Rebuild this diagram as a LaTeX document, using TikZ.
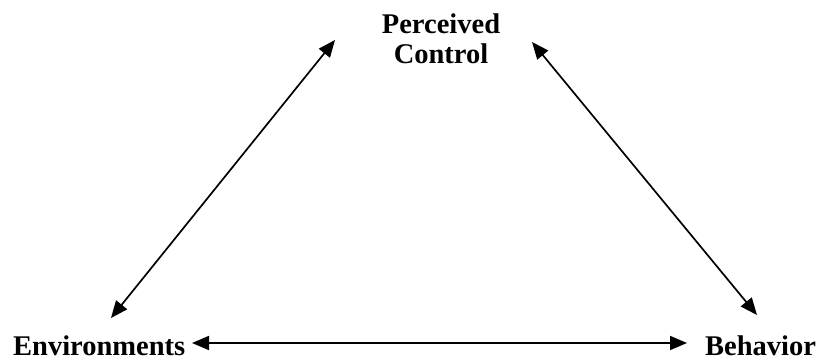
\documentclass[tikz,border=0pt]{standalone}
\usepackage{fontspec}
\setmainfont{Liberation Serif}
\usetikzlibrary{arrows.meta}
\tikzset{
  lbl/.style={font=\bfseries\fontsize{28.5}{30}\selectfont, inner sep=0pt, align=center},
  link/.style={line width=1.7pt, {Triangle[length=17pt,width=14pt]}-{Triangle[length=17pt,width=14pt]}}
}
\begin{document}
\begin{tikzpicture}[x=1pt,y=1pt]
\useasboundingbox (0,0) rectangle (830,360);
\node[lbl, anchor=base west] (env) at (13,5) {Environments};
\node[lbl, anchor=base west] (beh) at (705,5) {Behavior};
\node[lbl, anchor=north] (pc) at (441,346) {Perceived\\Control};
\coordinate (envR) at (192,17);
\coordinate (behL) at (687,17);
\coordinate (pcL) at (335,320);
\coordinate (envT) at (111,42);
\coordinate (pcR) at (532,318);
\coordinate (behT) at (757,45);
\draw[link] (envR) -- (behL);
\draw[link] (envT) -- (pcL);
\draw[link] (pcR) -- (behT);
\end{tikzpicture}
\end{document}
